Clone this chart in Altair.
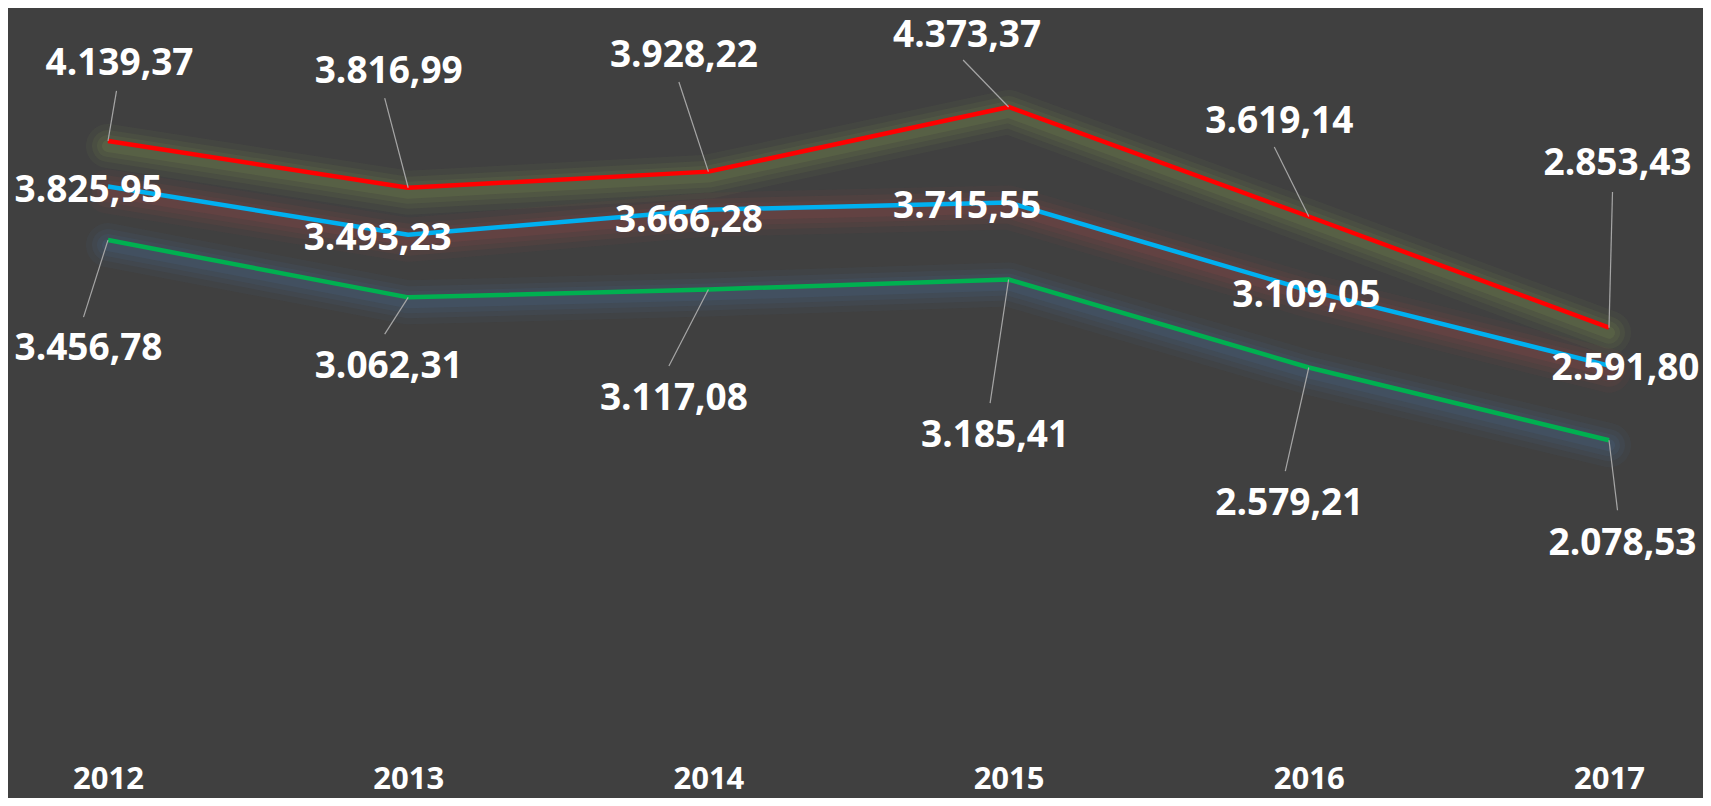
import altair as alt
import pandas as pd

# ---- data ----
years = [2012, 2013, 2014, 2015, 2016, 2017]
series_names = ["Série 1", "Série 2", "Série 3"]
red_values = [4139.37, 3816.99, 3928.22, 4373.37, 3619.14, 2853.43]
blue_values = [3825.95, 3493.23, 3666.28, 3715.55, 3109.05, 2591.80]
green_values = [3456.78, 3062.31, 3117.08, 3185.41, 2579.21, 2078.53]
all_values = [red_values, blue_values, green_values]

# ---- styles ----
line_colors = ["#FF0000", "#00B0F0", "#00B050"]
glow_colors = ["#9BBB59", "#C0504D", "#4F81BD"]

# ---- label layout (pixel offsets from each point) ----
label_dx = [[11.5, -19.5, -24.5, -41.5, -29.5, 8.5],
            [-19.5, -30.5, -19.5, -41.5, -2.5, 16.5],
            [-19.5, -19.5, -34.5, -13.5, -19.5, 13.5]]
label_dy = [[-66, -105, -105, -60, -84, -153],
            [15.6, 15.3, 22.4, 15.6, 16.5, 14.5],
            [120, 81, 121, 168, 148, 115]]
leader_dx = [[8.5, -23.5, -29.5, -45.5, -34.5, 3.5],
             None,
             [-24.5, -23.5, -39.5, -18.5, -23.5, 8.5]]
leader_dy = [[-50, -89.7, -89.6, -47, -69.4, -135.6],
             None,
             [77, 36.8, 76.7, 123.6, 103.6, 70]]

W, H = 1501, 726
Y_MAX = 5000
px_per_year = W / (years[-1] - years[0])
units_per_px = Y_MAX / H
glow_shift = 5


def fmt(v):
    s = f"{v:,.2f}"
    return s.replace(",", "X").replace(".", ",").replace("X", ".")


rows = []
for si, name in enumerate(series_names):
    for i, yr in enumerate(years):
        v = all_values[si][i]
        r = dict(series=name, order=si, year=yr, value=v,
                 color=line_colors[si], glow=glow_colors[si],
                 glowv=v - glow_shift * units_per_px,
                 label=fmt(v),
                 lx=yr + label_dx[si][i] / px_per_year,
                 ly=v - label_dy[si][i] * units_per_px)
        if leader_dx[si] is not None:
            r["ex"] = yr + leader_dx[si][i] / px_per_year
            r["ey"] = v - leader_dy[si][i] * units_per_px
            r["lead"] = 1
        else:
            r["ex"] = yr
            r["ey"] = v
            r["lead"] = 0
        rows.append(r)
df = pd.DataFrame(rows)

xscale = alt.Scale(domain=[years[0], years[-1]], nice=False, zero=False)
yscale = alt.Scale(domain=[0, Y_MAX], nice=False, zero=True)

x_axis = alt.Axis(values=years, format="d", labelFont="Open Sans",
                  labelFontWeight="bold", labelFontSize=31, labelColor="white",
                  labelPadding=22, ticks=False, domain=False, grid=False,
                  title=None, labelFlush=False, labelOverlap=False)


def X(field):
    return alt.X(field, scale=xscale, axis=x_axis, title=None)


def Y(field):
    return alt.Y(field, scale=yscale, axis=None, title=None)


base = alt.Chart(df)

glows = []
for w, o in [(44, 0.05), (32, 0.07), (22, 0.08), (12, 0.10)]:
    glows.append(base.mark_line(strokeWidth=w, opacity=o, strokeCap="round",
                                strokeJoin="round").encode(
        x=X("year:Q"),
        y=Y("glowv:Q"),
        color=alt.Color("glow:N", scale=None),
        detail="series:N",
        order="year:Q",
    ))

lines = base.mark_line(strokeWidth=4.5, strokeJoin="round").encode(
    x=X("year:Q"),
    y=Y("value:Q"),
    color=alt.Color("color:N", scale=None),
    detail="series:N",
    order="year:Q",
)

leaders = base.transform_filter("datum.lead == 1").mark_rule(
    color="#A6A6A6", strokeWidth=1.2).encode(
    x=X("year:Q"),
    y=Y("value:Q"),
    x2="ex:Q",
    y2="ey:Q",
)

labels = base.mark_text(align="center", baseline="alphabetic", font="Open Sans",
                        fontWeight="bold", fontSize=37, color="white").encode(
    x=X("lx:Q"),
    y=Y("ly:Q"),
    text="label:N",
)

chart = alt.layer(*glows, lines, leaders, labels).properties(
    width=W, height=H,
    autosize=alt.AutoSizeParams(type="none"),
    padding={"left": 100, "top": 8, "right": 94, "bottom": 56},
    background="#404040",
).configure_view(stroke=None)

chart.save("out.html", embed_options={"renderer": "svg", "actions": False})
